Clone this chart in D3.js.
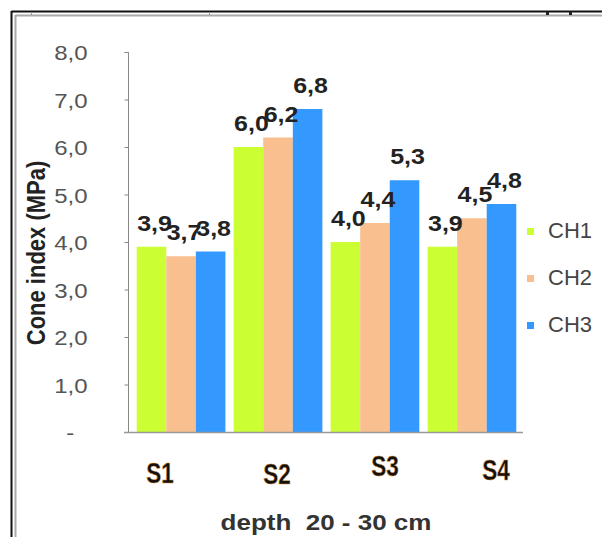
<!DOCTYPE html>
<html><head><meta charset="utf-8">
<script src="https://cdn.jsdelivr.net/npm/d3@7"></script>
<style>body{margin:0;background:#fff}svg{display:block}text{white-space:pre}</style>
</head><body>
<script>
const categories = ["S1", "S2", "S3", "S4"];
const seriesNames = ["CH1", "CH2", "CH3"];
const ch1 = [3.9, 6.0, 4.0, 3.9];
const ch2 = [3.7, 6.2, 4.4, 4.5];
const ch3 = [3.8, 6.8, 5.3, 4.8];
const yTicks = [0, 1, 2, 3, 4, 5, 6, 7, 8];
const yTickLabels = ["-  ", "1,0", "2,0", "3,0", "4,0", "5,0", "6,0", "7,0", "8,0"];
const colors = ["#CCFF33", "#F9BF8F", "#3399FF"];
const series = [ch1, ch2, ch3];

const W = 602, H = 537;
const FONT = "Liberation Sans, Arial, sans-serif";
const SQ = 0.87; // vertical squash of the original picture
const svg = d3.select("body").append("svg").attr("width", W).attr("height", H);

// frame
svg.append("line").attr("x1", 11.5).attr("x2", W).attr("y1", 11.5).attr("y2", 11.5).attr("stroke", "#111").attr("stroke-width", 2);
svg.append("line").attr("x1", 11.5).attr("x2", 11.5).attr("y1", 11).attr("y2", H).attr("stroke", "#111").attr("stroke-width", 2);
svg.append("line").attr("x1", 15.5).attr("x2", W).attr("y1", 15.5).attr("y2", 15.5).attr("stroke", "#aaa").attr("stroke-width", 2);
svg.append("line").attr("x1", 15.5).attr("x2", 15.5).attr("y1", 15).attr("y2", H).attr("stroke", "#aaa").attr("stroke-width", 2);
svg.append("line").attr("x1", 31.5).attr("x2", 31.5).attr("y1", 12).attr("y2", 15).attr("stroke", "#999");
svg.append("line").attr("x1", 209.5).attr("x2", 209.5).attr("y1", 12).attr("y2", 15).attr("stroke", "#999");
svg.append("rect").attr("x", 546).attr("y", 12).attr("width", 3).attr("height", 3).attr("fill", "#222");
svg.append("rect").attr("x", 569).attr("y", 12).attr("width", 3).attr("height", 3).attr("fill", "#222");

const y = d3.scaleLinear().domain([0, 8]).range([432, 52]);
const x0 = d3.scaleBand().domain(categories).range([128, 525]).paddingInner(0.085).paddingOuter(0.09);
const x1 = d3.scaleBand().domain(seriesNames).range([0, x0.bandwidth()]);

// bars
seriesNames.forEach((s, si) => {
  svg.append("g").selectAll("rect").data(series[si]).join("rect")
    .attr("x", (d, i) => x0(categories[i]) + x1(s))
    .attr("y", d => y(d))
    .attr("width", x1.bandwidth())
    .attr("height", d => y(0) - y(d))
    .attr("fill", colors[si]);
});

// y axis
const yAxis = d3.axisLeft(y).tickValues(yTicks).tickSize(4).tickFormat((d, i) => yTickLabels[i]);
const ga = svg.append("g").attr("transform", "translate(128.5,0)").call(yAxis);
ga.select(".domain").attr("stroke", "#888").attr("d", "M-4,52.5H0V432.5");
ga.selectAll(".tick line").attr("stroke", "#888");
ga.selectAll(".tick text").attr("x", -41).attr("dy", "0.36em").attr("font-family", FONT)
  .attr("font-size", 24).attr("fill", "#555").attr("transform", `scale(1,${SQ})`);

// x axis line
svg.append("line").attr("x1", 124).attr("x2", 523).attr("y1", 432.5).attr("y2", 432.5).attr("stroke", "#999").attr("stroke-width", 1.5);

// value labels
seriesNames.forEach((s, si) => {
  svg.append("g").selectAll("text").data(series[si]).join("text")
    .attr("transform", (d, i) => `translate(${x0(categories[i]) + x1(s) + x1.bandwidth() / 2 + 3},${y(d) - 16}) scale(1,${SQ})`)
    .attr("text-anchor", "middle")
    .attr("font-family", FONT)
    .attr("font-size", 25).attr("font-weight", "bold").attr("fill", "#222")
    .text(d => d.toFixed(1).replace(".", ","));
});

// category labels
const dx = [-21, -1, 10, 24], by = [483, 484, 476, 480];
svg.append("g").selectAll("text").data(categories).join("text")
  .attr("transform", (d, i) => `translate(${x0(d) + x0.bandwidth() / 2 + dx[i]},${by[i]}) scale(0.75,1)`)
  .attr("text-anchor", "middle")
  .attr("font-family", FONT)
  .attr("font-size", 30).attr("font-weight", "bold").attr("fill", "#111")
  .attr("stroke", "#d98a2b").attr("stroke-width", 0.5)
  .text(d => d);

// axis titles
svg.append("text").attr("transform", `translate(45,253) rotate(-90) scale(0.88,1)`)
  .attr("text-anchor", "middle").attr("font-family", FONT)
  .attr("font-size", 25).attr("font-weight", "bold").attr("fill", "#222")
  .text("Cone index (MPa)");
svg.append("text").attr("transform", `translate(326,530) scale(1,${SQ})`).attr("text-anchor", "middle")
  .attr("font-family", FONT)
  .attr("font-size", 26).attr("font-weight", "bold").attr("fill", "#333")
  .text("depth  20 - 30 cm");

// legend
const lg = svg.append("g").attr("transform", "translate(527,0)");
seriesNames.forEach((s, si) => {
  const cy = 231 + si * 47;
  lg.append("rect").attr("x", 0).attr("y", cy - 3).attr("width", 7).attr("height", 7).attr("fill", colors[si]);
  lg.append("text").attr("transform", `translate(21,${cy + 7})`).attr("font-family", FONT)
    .attr("font-size", 22).attr("fill", "#444").text(s);
});
</script>
</body></html>
